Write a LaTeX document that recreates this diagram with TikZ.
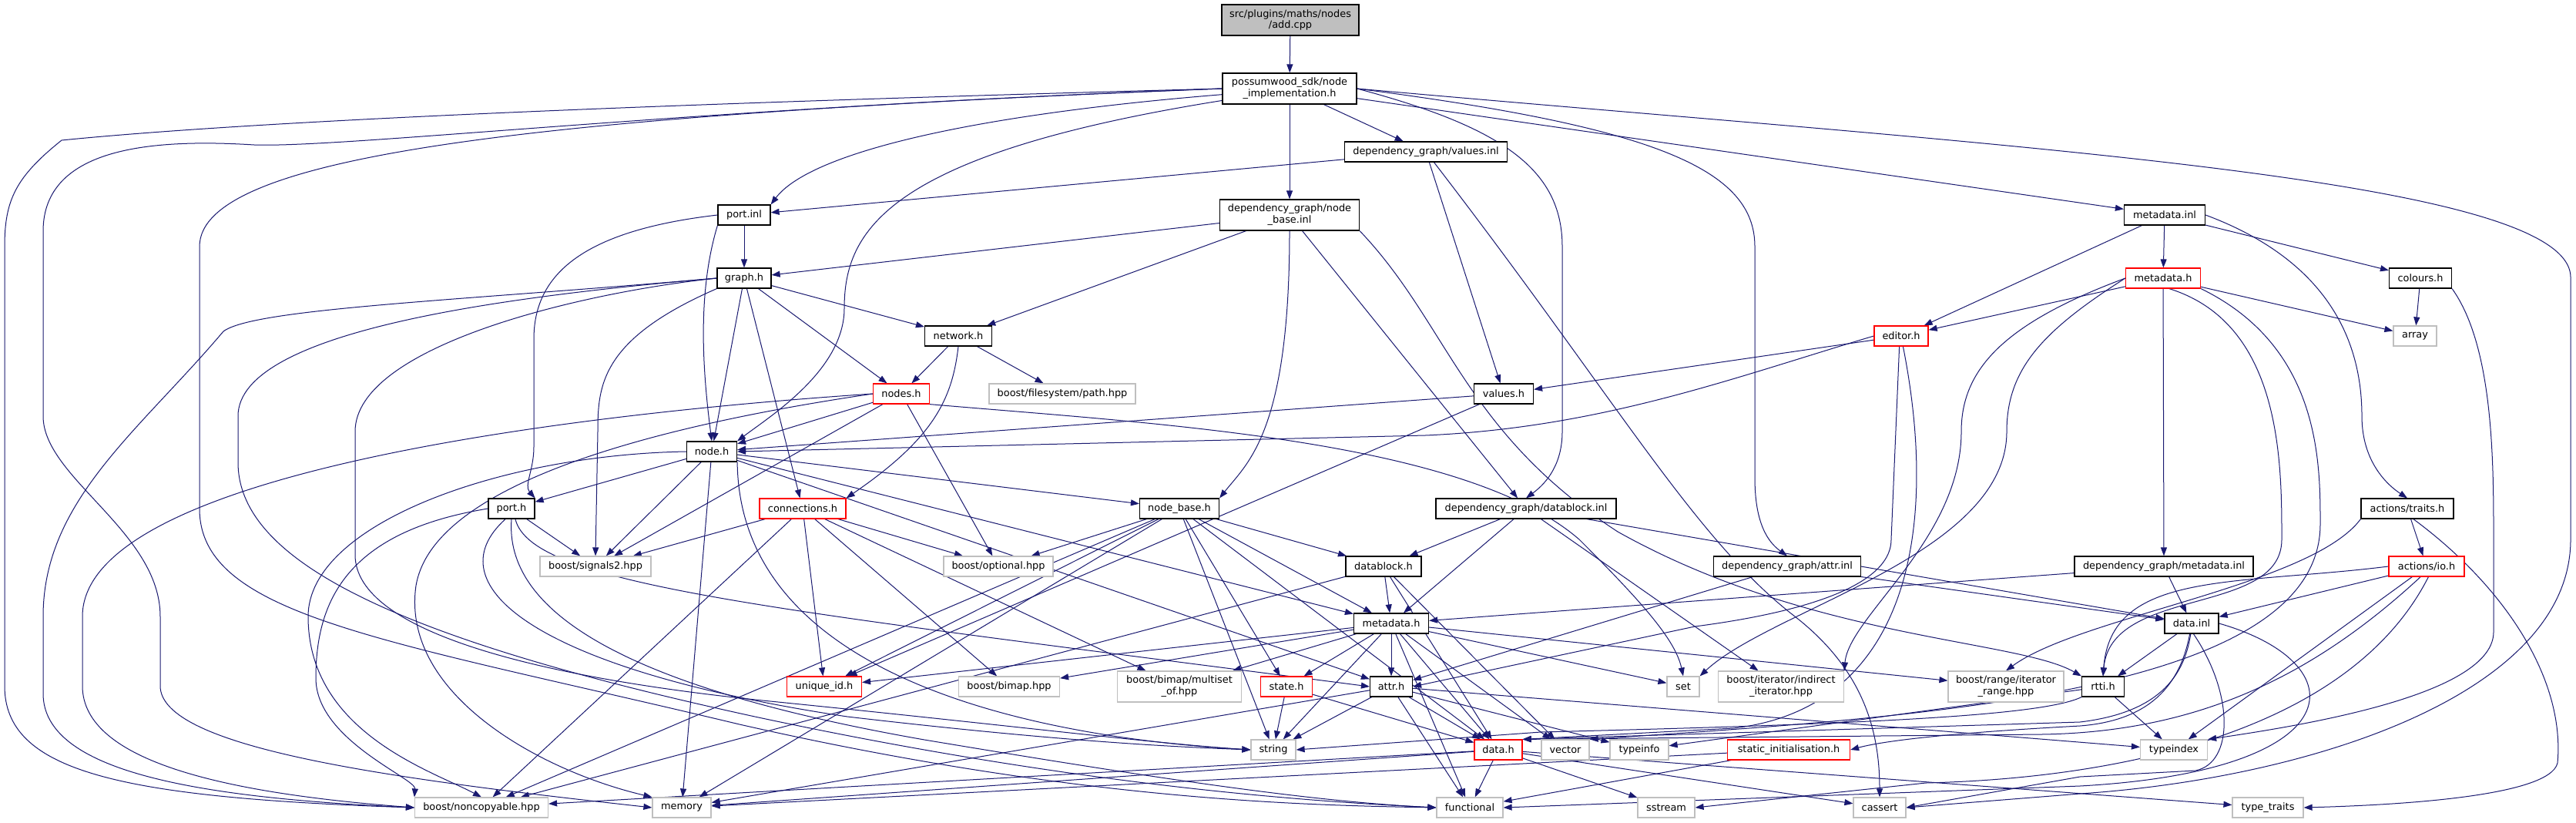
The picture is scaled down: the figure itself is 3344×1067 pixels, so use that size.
\documentclass[tikz,border=0pt]{standalone}
\usepackage{fontspec}
\setmainfont{DejaVu Sans}
\usetikzlibrary{arrows.meta}
\usepackage{xcolor}
\definecolor{dxblue}{RGB}{25,25,112}
\definecolor{dxgrey}{RGB}{191,191,191}
\definecolor{dxred}{RGB}{255,0,0}
\newcommand{\dxfont}{\fontsize{6.45}{7.4}\selectfont}
\pgfdeclarelayer{paper}
\pgfdeclarelayer{wires}
\pgfsetlayers{paper,wires,main}
\tikzset{
    hfile/.style={
        draw=black,fill=white,line width=0.6pt,inner sep=0pt,
        minimum height=13pt,align=center,font=\dxfont
    },
    redfile/.style={hfile,draw=dxred},
    sysfile/.style={hfile,draw=dxgrey},
    rootfile/.style={hfile,fill=dxgrey},
    boxw/.style={minimum width=#1*0.5pt},
    tall/.style={minimum height=20pt},
    dep/.style={
        -{Triangle[length=5.5pt,width=4pt]},draw=dxblue,line width=0.5pt
    }
}

\begin{document}
\begin{tikzpicture}[x=0.5pt,y=-0.5pt]
\useasboundingbox (0,0) rectangle (3344,1067);
\begin{pgfonlayer}{paper}
\fill[white] (0,0) rectangle (3344,1067);
\end{pgfonlayer}

% files of the project
\node[rootfile,boxw=178,tall] (addcpp) at (1675,26) {src/plugins/maths/nodes\\/add.cpp};
\node[hfile,boxw=174,tall] (nodeimpl) at (1674,115) {possumwood\_sdk/node\\\_implementation.h};
\node[hfile,boxw=211] (valuesinl) at (1851,197) {dependency\_graph/values.inl};
\node[hfile,boxw=181,tall] (nodebaseinl) at (1674,279) {dependency\_graph/node\\\_base.inl};
\node[hfile,boxw=68] (portinl) at (966,279) {port.inl};
\node[hfile,boxw=70] (graphh) at (966,361) {graph.h};
\node[hfile,boxw=87] (networkh) at (1244,436) {network.h};
\node[redfile,boxw=73] (nodesh) at (1170,511) {nodes.h};
\node[hfile,boxw=77] (valuesh) at (1952,511) {values.h};
\node[hfile,boxw=105] (metainl) at (2810,279) {metadata.inl};
\node[redfile,boxw=97] (metah) at (2808,361) {metadata.h};
\node[hfile,boxw=81] (coloursh) at (3142,361) {colours.h};
\node[redfile,boxw=70] (editorh) at (2468,436) {editor.h};
\node[hfile,boxw=65] (nodeh) at (924,586) {node.h};
\node[hfile,boxw=60] (porth) at (664,660) {port.h};
\node[redfile,boxw=112] (connh) at (1042,660) {connections.h};
\node[hfile,boxw=103] (nodebaseh) at (1531,660) {node\_base.h};
\node[hfile,boxw=234] (datablockinl) at (1981,660) {dependency\_graph/datablock.inl};
\node[hfile,boxw=120] (traitsh) at (3125,660) {actions/traits.h};
\node[hfile,boxw=98] (datablockh) at (1796,735) {datablock.h};
\node[hfile,boxw=191] (attrinl) at (2320,735) {dependency\_graph/attr.inl};
\node[hfile,boxw=232] (metadatainl) at (2809,735) {dependency\_graph/metadata.inl};
\node[redfile,boxw=98] (ioh) at (3150,735) {actions/io.h};
\node[hfile,boxw=97] (metadatah) at (1806,809) {metadata.h};
\node[hfile,boxw=70] (datainl) at (2845,809) {data.inl};
\node[redfile,boxw=97] (uidh) at (1070,891) {unique\_id.h};
\node[redfile,boxw=67] (stateh) at (1670,891) {state.h};
\node[hfile,boxw=55] (attrh) at (1806,891) {attr.h};
\node[hfile,boxw=55] (rttih) at (2730,891) {rtti.h};
\node[redfile,boxw=62] (datah) at (1945,973) {data.h};
\node[redfile,boxw=159] (staticinit) at (2322,973) {static\_initialisation.h};

% system and boost headers
\node[sysfile,boxw=190] (boostpath) at (1379,511) {boost/filesystem/path.hpp};
\node[sysfile,boxw=56] (stdarray) at (3135,436) {array};
\node[sysfile,boxw=144] (boostsignals) at (773,735) {boost/signals2.hpp};
\node[sysfile,boxw=142] (boostoptional) at (1296,735) {boost/optional.hpp};
\node[sysfile,boxw=131] (boostbimap) at (1310,891) {boost/bimap.hpp};
\node[sysfile,boxw=161,tall] (boostmultiset) at (1531,891) {boost/bimap/multiset\\\_of.hpp};
\node[sysfile,boxw=42] (stdset) at (2185,891) {set};
\node[sysfile,boxw=163,tall] (boostindirect) at (2312,891) {boost/iterator/indirect\\\_iterator.hpp};
\node[sysfile,boxw=150,tall] (boostrange) at (2604,891) {boost/range/iterator\\\_range.hpp};
\node[sysfile,boxw=58] (stdstring) at (1653,973) {string};
\node[sysfile,boxw=62] (stdvector) at (2032,973) {vector};
\node[sysfile,boxw=76] (stdtypeinfo) at (2128,973) {typeinfo};
\node[sysfile,boxw=87] (stdtypeindex) at (2822,973) {typeindex};
\node[sysfile,boxw=173] (noncopyable) at (625,1048) {boost/noncopyable.hpp};
\node[sysfile,boxw=76] (stdmemory) at (885,1048) {memory};
\node[sysfile,boxw=86] (stdfunctional) at (1908,1048) {functional};
\node[sysfile,boxw=74] (stdsstream) at (2163,1048) {sstream};
\node[sysfile,boxw=68] (stdcassert) at (2440,1048) {cassert};
\node[sysfile,boxw=92] (stdtypetraits) at (2944,1048) {type\_traits};

\begin{pgfonlayer}{wires}
\draw[dep] (addcpp) -- (nodeimpl);

% node_implementation.h
\draw[dep] (nodeimpl.west) .. controls (1100,128) and (400,150) .. (80,182) .. controls (20,230) and (6,260) .. (6,320) -- (6,890) .. controls (6,1000) and (150,1035) .. (noncopyable.west);
\draw[dep] (nodeimpl.west) .. controls (900,140) and (450,192) .. (330,188) .. controls (200,180) and (56,190) .. (56,300) -- (56,540) .. controls (56,620) and (208,690) .. (208,800) -- (208,890) .. controls (208,970) and (500,1010) .. (stdmemory.west);
\draw[dep] (nodeimpl.west) .. controls (700,150) and (259,200) .. (259,320) -- (259,660) .. controls (259,800) and (500,830) .. (960,940) .. controls (1400,1040) and (1700,1045) .. (stdfunctional.west);
\draw[dep] (nodeimpl.185) .. controls (1250,150) and (1050,200) .. (portinl.north east);
\draw[dep] (nodeimpl.190) .. controls (1150,200) and (1096,300) .. (1096,400) .. controls (1096,480) and (1000,540) .. (nodeh.north east);
\draw[dep] (nodeimpl) -- (valuesinl);
\draw[dep] (nodeimpl) -- (nodebaseinl);
\draw[dep] (nodeimpl.east) .. controls (1950,165) and (2028,220) .. (2028,320) -- (2028,560) .. controls (2028,600) and (2010,625) .. (datablockinl.north);
\draw[dep] (nodeimpl.east) .. controls (2150,165) and (2278,220) .. (2278,320) -- (2278,620) .. controls (2278,670) and (2290,700) .. (attrinl.north);
\draw[dep] (nodeimpl) -- (metainl);
\draw[dep] (nodeimpl.east) .. controls (2600,190) and (3337,230) .. (3337,360) -- (3337,700) .. controls (3337,900) and (3000,1010) .. (2700,1030) -- (stdcassert.east);

% values.inl and node_base.inl
\draw[dep] (valuesinl) -- (portinl);
\draw[dep] (valuesinl) -- (valuesh);
\draw[dep] (valuesinl) .. controls (2100,520) and (2200,700) .. (2330,800) .. controls (2420,870) and (2440,950) .. (stdcassert.north);
\draw[dep] (nodebaseinl) -- (graphh);
\draw[dep] (nodebaseinl) -- (networkh);
\draw[dep] (nodebaseinl.south) .. controls (1674,560) and (1620,600) .. (nodebaseh.north east);
\draw[dep] (nodebaseinl) -- (datablockinl);
\draw[dep] (nodebaseinl.south east) .. controls (1880,420) and (1900,560) .. (2100,690) .. controls (2350,830) and (2620,830) .. (rttih.north west);

% port.inl and graph.h
\draw[dep] (portinl) -- (graphh);
\draw[dep] (portinl.west) .. controls (750,300) and (693,360) .. (693,440) -- (693,580) .. controls (693,610) and (680,630) .. (porth.north east);
\draw[dep] (portinl.south west) .. controls (905,380) and (912,480) .. (nodeh.north);
\draw[dep] (graphh.west) .. controls (600,390) and (330,400) .. (290,430) .. controls (180,560) and (56,650) .. (56,800) -- (56,900) .. controls (56,1000) and (250,1035) .. (noncopyable.west);
\draw[dep] (graphh.west) .. controls (650,385) and (309,430) .. (309,540) -- (309,600) .. controls (309,730) and (520,830) .. (980,930) .. controls (1400,1020) and (1700,1040) .. (stdfunctional.west);
\draw[dep] (graphh.west) .. controls (750,380) and (461,450) .. (461,560) -- (461,720) .. controls (461,820) and (700,880) .. (1000,910) .. controls (1300,940) and (1500,965) .. (stdstring.west);
\draw[dep] (graphh.south west) .. controls (780,440) and (776,500) .. (776,560) -- (boostsignals.north);
\draw[dep] (graphh) -- (nodeh);
\draw[dep] (graphh) -- (connh);
\draw[dep] (graphh) -- (nodesh);
\draw[dep] (graphh) -- (networkh);

% network.h and nodes.h
\draw[dep] (networkh) -- (nodesh);
\draw[dep] (networkh) -- (boostpath);
\draw[dep] (networkh.south) .. controls (1236,520) and (1210,570) .. (connh.north east);
\draw[dep] (nodesh) -- (nodeh);
\draw[dep] (nodesh.west) .. controls (700,540) and (107,620) .. (107,800) -- (107,890) .. controls (107,990) and (300,1030) .. (noncopyable.west);
\draw[dep] (nodesh.west) .. controls (800,560) and (560,640) .. (540,760) .. controls (520,900) and (700,1000) .. (stdmemory.north west);
\draw[dep] (nodesh) -- (boostoptional);
\draw[dep] (nodesh) -- (boostsignals);
\draw[dep] (nodesh.south east) .. controls (1500,550) and (1900,570) .. (2050,700) .. controls (2130,780) and (2175,830) .. (stdset.north);

% values.h, metadata.inl, metadata.h
\draw[dep] (valuesh) -- (nodeh);
\draw[dep] (valuesh) -- (uidh);
\draw[dep] (metainl) -- (metah);
\draw[dep] (metainl) -- (editorh);
\draw[dep] (metainl) -- (coloursh);
\draw[dep] (metainl.east) .. controls (3000,330) and (3066,420) .. (3066,540) .. controls (3066,600) and (3100,630) .. (traitsh.north);
\draw[dep] (metah) -- (editorh);
\draw[dep] (metah) -- (stdarray);
\draw[dep] (metah) -- (metadatainl);
\draw[dep] (metah.-60) .. controls (2962,420) and (2962,600) .. (2962,700) .. controls (2962,800) and (2740,760) .. (rttih.north);
\draw[dep] (metah.west) .. controls (2600,420) and (2546,480) .. (2546,560) .. controls (2546,700) and (2400,800) .. (boostindirect.north east);
\draw[dep] (metah.west) .. controls (2650,430) and (2605,480) .. (2605,560) .. controls (2605,720) and (2300,790) .. (stdset.north east);
\draw[dep] (metah.south east) .. controls (3012,450) and (3012,600) .. (3012,680) .. controls (3012,900) and (2500,930) .. (stdvector.north east);
\draw[dep] (coloursh) -- (stdarray);
\draw[dep] (coloursh.south east) .. controls (3237,450) and (3237,600) .. (3237,700) -- (3237,820) .. controls (3237,900) and (3000,940) .. (stdtypeindex.north east);

% editor.h
\draw[dep] (editorh) -- (valuesh);
\draw[dep] (editorh.west) .. controls (2250,490) and (2080,555) .. (1850,565) -- (nodeh.east);
\draw[dep] (editorh.-100) -- (2455,700) .. controls (2455,770) and (2300,800) .. (2200,813) -- (attrh.east);
\draw[dep] (editorh.-80) .. controls (2520,700) and (2470,920) .. (2250,945) -- (datah.north east);

% node.h and port.h
\draw[dep] (nodeh) -- (porth);
\draw[dep] (nodeh) -- (boostsignals);
\draw[dep] (nodeh) -- (nodebaseh);
\draw[dep] (nodeh) -- (metadatah);
\draw[dep] (nodeh) -- (attrh);
\draw[dep] (nodeh.west) .. controls (650,590) and (400,680) .. (400,800) .. controls (400,950) and (560,1000) .. (noncopyable.north);
\draw[dep] (nodeh) -- (stdmemory);
\draw[dep] (nodeh.south east) .. controls (960,900) and (1400,960) .. (stdstring.west);
\draw[dep] (porth) -- (boostsignals);
\draw[dep] (porth.-70) .. controls (690,760) and (1000,790) .. (attrh.west);
\draw[dep] (porth.west) .. controls (450,690) and (410,780) .. (410,880) .. controls (410,960) and (540,1010) .. (noncopyable.north west);
\draw[dep] (porth.-120) .. controls (560,760) and (700,870) .. (1100,930) .. controls (1400,965) and (1550,970) .. (stdstring.west);
\draw[dep] (porth.south) .. controls (655,790) and (800,890) .. (1200,960) .. controls (1500,1010) and (1700,1040) .. (stdfunctional.west);

% connections.h and node_base.h
\draw[dep] (connh) -- (boostsignals);
\draw[dep] (connh) -- (boostoptional);
\draw[dep] (connh) -- (uidh);
\draw[dep] (connh) -- (boostbimap);
\draw[dep] (connh) -- (boostmultiset);
\draw[dep] (connh) -- (noncopyable);
\draw[dep] (nodebaseh) -- (boostoptional);
\draw[dep] (nodebaseh) -- (datablockh);
\draw[dep] (nodebaseh) -- (metadatah);
\draw[dep] (nodebaseh) -- (stateh);
\draw[dep] (nodebaseh) -- (uidh);
\draw[dep] (nodebaseh) -- (noncopyable);
\draw[dep] (nodebaseh) -- (stdmemory);
\draw[dep] (nodebaseh) -- (stdstring);
\draw[dep] (nodebaseh) -- (datah);

% datablock
\draw[dep] (datablockinl) -- (datablockh);
\draw[dep] (datablockinl) -- (metadatah);
\draw[dep] (datablockinl) -- (datainl);
\draw[dep] (datablockinl) -- (boostindirect);
\draw[dep] (datablockh) -- (metadatah);
\draw[dep] (datablockh) -- (datah);
\draw[dep] (datablockh) -- (stdvector);
\draw[dep] (datablockh) -- (noncopyable);

% metadata.h
\draw[dep] (metadatah) -- (uidh);
\draw[dep] (metadatah) -- (boostbimap);
\draw[dep] (metadatah) -- (boostmultiset);
\draw[dep] (metadatah) -- (stateh);
\draw[dep] (metadatah) -- (attrh);
\draw[dep] (metadatah) -- (stdstring);
\draw[dep] (metadatah) -- (datah);
\draw[dep] (metadatah) -- (stdvector);
\draw[dep] (metadatah) -- (stdfunctional);
\draw[dep] (metadatah) -- (stdset);
\draw[dep] (metadatah) -- (boostrange);

% state.h, attr.h, data.h
\draw[dep] (stateh) -- (stdstring);
\draw[dep] (stateh) -- (datah);
\draw[dep] (attrh) -- (stdstring);
\draw[dep] (attrh) -- (datah);
\draw[dep] (attrh) -- (stdfunctional);
\draw[dep] (attrh) -- (stdtypeinfo);
\draw[dep] (attrh) -- (stdtypeindex);
\draw[dep] (attrh) -- (stdmemory);
\draw[dep] (datah) -- (stdfunctional);
\draw[dep] (datah) -- (stdsstream);
\draw[dep] (datah) -- (stdcassert);
\draw[dep] (datah) -- (stdtypetraits);
\draw[dep] (datah) -- (noncopyable);
\draw[dep] (datah) -- (stdmemory);

% actions
\draw[dep] (traitsh) -- (ioh);
\draw[dep] (traitsh.-60) .. controls (3250,760) and (3330,880) .. (3320,990) .. controls (3310,1035) and (3100,1045) .. (stdtypetraits.east);
\draw[dep] (traitsh.south west) .. controls (3000,760) and (2700,800) .. (boostrange.north);
\draw[dep] (ioh) -- (datainl);
\draw[dep] (ioh.west) .. controls (2900,760) and (2740,740) .. (rttih.north);
\draw[dep] (ioh) -- (stdtypeindex);
\draw[dep] (ioh.-120) .. controls (3000,880) and (2850,950) .. (2650,953) -- (datah.north east);
\draw[dep] (ioh.-80) .. controls (3050,950) and (2750,1010) .. (2500,1016) -- (stdsstream.east);

% inl files, rtti.h, static_initialisation.h
\draw[dep] (attrinl) -- (attrh);
\draw[dep] (attrinl) -- (datainl);
\draw[dep] (metadatainl) -- (metadatah);
\draw[dep] (metadatainl) -- (datainl);
\draw[dep] (datainl) -- (rttih);
\draw[dep] (datainl.-100) .. controls (2830,890) and (2790,935) .. (2700,942) .. controls (2550,950) and (2450,960) .. (staticinit.east);
\draw[dep] (datainl.-95) .. controls (2835,880) and (2800,925) .. (2700,937) -- (datah.north east);
\draw[dep] (datainl.-80) .. controls (2900,900) and (2900,990) .. (2850,1000) -- (2700,1008) -- (stdcassert.east);
\draw[dep] (datainl.east) .. controls (3060,860) and (3060,1000) .. (2700,1020) -- (stdfunctional.east);
\draw[dep] (rttih) -- (stdtypeindex);
\draw[dep] (rttih) -- (stdtypeinfo);
\draw[dep] (rttih.south west) .. controls (2650,930) and (2400,940) .. (2000,950) -- (stdstring.east);
\draw[dep] (staticinit) -- (stdfunctional);
\draw[dep] (staticinit) -- (stdmemory);
\end{pgfonlayer}

\end{tikzpicture}
\end{document}
